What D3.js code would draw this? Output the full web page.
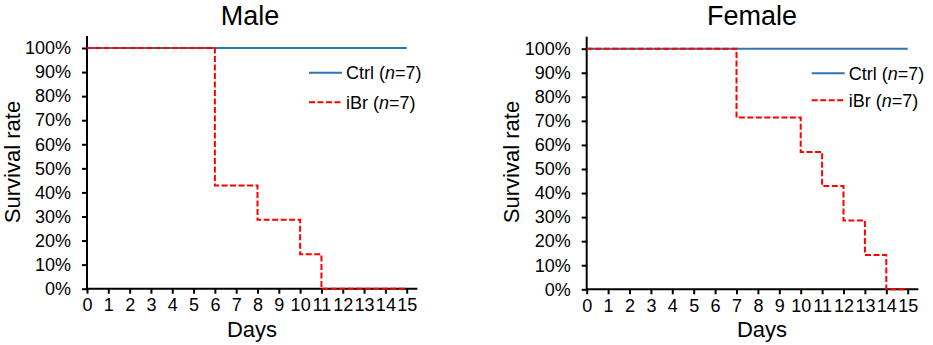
<!DOCTYPE html>
<html><head><meta charset="utf-8">
<script src="https://cdn.jsdelivr.net/npm/d3@7"></script>
<style>body{margin:0;background:#fff}svg{display:block}text{font-family:"Liberation Sans",Arial,sans-serif;fill:#000}</style>
</head><body><svg id="c" width="933" height="345"></svg>
<script>
const dayTicks = [0,1,2,3,4,5,6,7,8,9,10,11,12,13,14,15];
const pctTicks = [0,10,20,30,40,50,60,70,80,90,100];
const maleCtrlDays = [0, 15];
const maleCtrlSurv = [100, 100];
const maleIbrDays = [0, 6, 8, 10, 11, 15];
const maleIbrSurv = [100, 42.9, 28.6, 14.3, 0, 0];
const femaleCtrlDays = [0, 15];
const femaleCtrlSurv = [100, 100];
const femaleIbrDays = [0, 7, 10, 11, 12, 13, 14, 15];
const femaleIbrSurv = [100, 71.4, 57.1, 42.9, 28.6, 14.3, 0, 0];
const legendLabels = ["Ctrl", "iBr"];
const groupN = [7, 7];

const svg = d3.select("#c");
const blue = "#2E74B5", red = "#FF0000";

function panel(o){
  const g = svg.append("g");
  const x = d3.scaleLinear().domain([0,15]).range([o.x0, o.x1]);
  const y = d3.scaleLinear().domain([0,100]).range([o.y0, o.y1]);
  const xEnd = x(15.5), yTop = y(105);
  g.append("line").attr("x1", x(0)).attr("x2", xEnd).attr("y1", y(0)).attr("y2", y(0)).attr("stroke","#000").attr("stroke-width",2);
  g.append("line").attr("x1", x(0)).attr("x2", x(0)).attr("y1", y(0)+1).attr("y2", yTop).attr("stroke","#000").attr("stroke-width",2);
  const xa = g.append("g").attr("transform",`translate(0,${y(0)})`)
    .call(d3.axisBottom(x).tickValues(dayTicks).tickSize(5).tickPadding(5).tickFormat(d3.format("d")));
  xa.select(".domain").remove();
  xa.selectAll("line").attr("stroke","#000").attr("stroke-width",2);
  xa.selectAll("text").attr("font-size",18).attr("fill","#000").style("font-family","Liberation Sans, Arial, sans-serif");
  const ya = g.append("g").attr("transform",`translate(${x(0)},0)`)
    .call(d3.axisLeft(y).tickValues(pctTicks).tickSize(5).tickPadding(11).tickFormat(d=>d+"%"));
  ya.select(".domain").remove();
  ya.selectAll("line").attr("stroke","#000").attr("stroke-width",2);
  ya.selectAll("text").attr("font-size",18).attr("fill","#000").style("font-family","Liberation Sans, Arial, sans-serif");

  const line = d3.line().x(d=>x(d[0])).y(d=>y(d[1])).curve(d3.curveStepAfter);
  g.append("path").datum(d3.zip(o.ctrlDays,o.ctrlSurv)).attr("d",line)
    .attr("fill","none").attr("stroke",blue).attr("stroke-width",2);
  g.append("path").datum(d3.zip(o.ibrDays,o.ibrSurv)).attr("d",line)
    .attr("fill","none").attr("stroke",red).attr("stroke-width",2).attr("stroke-dasharray","6,2.5");

  g.append("text").attr("x",o.titleX).attr("y",24.5).attr("text-anchor","middle").attr("font-size",27).text(o.title);
  g.append("text").attr("x",o.daysX).attr("y",337).attr("text-anchor","middle").attr("font-size",22).text("Days");
  g.append("text").attr("transform",`translate(${o.ylabX},162) rotate(-90)`).attr("text-anchor","middle").attr("font-size",22).text("Survival rate");

  const cols=[blue,red], dash=[null,"6,2.5"];
  legendLabels.forEach((lab,i)=>{
    const ly = o.legY[i];
    g.append("line").attr("x1",o.legX).attr("x2",o.legX+33).attr("y1",ly).attr("y2",ly)
      .attr("stroke",cols[i]).attr("stroke-width",2).attr("stroke-dasharray",dash[i]);
    const t = g.append("text").attr("x",o.legX+37).attr("y",ly+6.5).attr("font-size",18);
    t.append("tspan").text(lab+" (");
    t.append("tspan").attr("font-style","italic").text("n");
    t.append("tspan").text("="+groupN[i]+")");
  });
}

panel({x0:87,x1:406.7,y0:288.7,y1:48,title:"Male",titleX:250,daysX:252,ylabX:20.2,
  ctrlDays:maleCtrlDays,ctrlSurv:maleCtrlSurv,ibrDays:maleIbrDays,ibrSurv:maleIbrSurv,
  legX:309,legY:[72.7,102.3]});
panel({x0:586.7,x1:907.7,y0:289.3,y1:48.7,title:"Female",titleX:752,daysX:762,ylabX:519,
  ctrlDays:femaleCtrlDays,ctrlSurv:femaleCtrlSurv,ibrDays:femaleIbrDays,ibrSurv:femaleIbrSurv,
  legX:811.7,legY:[73.3,100.3]});
</script></body></html>
